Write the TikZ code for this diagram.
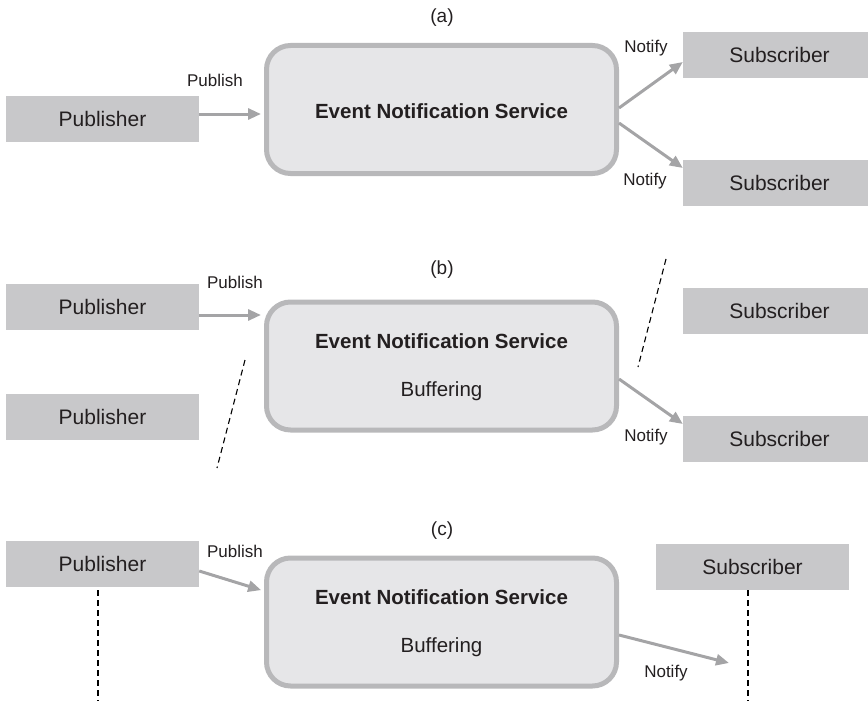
\documentclass[tikz,border=0pt]{standalone}
\usepackage{fontspec}
\setmainfont{Liberation Sans}
\usetikzlibrary{arrows.meta}
\definecolor{boxgray}{HTML}{C8C8CA}
\definecolor{ensfill}{HTML}{E6E6E8}
\definecolor{ensline}{HTML}{B8B8BA}
\definecolor{arrgray}{HTML}{A4A4A6}
\definecolor{ink}{HTML}{231F20}
\tikzset{
  actor/.style={fill=boxgray, inner sep=0pt, minimum width=193pt, minimum height=46pt,
    text=ink, font=\fontsize{21}{24}\selectfont},
  ens/.style={draw=ensline, fill=ensfill, line width=5pt, rounded corners=24pt,
    inner sep=0pt, minimum width=350pt, minimum height=128pt},
  enstext/.style={text=ink, font=\fontsize{20.5}{24}\selectfont\bfseries},
  buftext/.style={text=ink, font=\fontsize{20.5}{24}\selectfont},
  lbl/.style={text=ink, font=\fontsize{17}{20}\selectfont},
  panel/.style={text=ink, font=\fontsize{19}{22}\selectfont},
  flow/.style={draw=arrgray, line width=3pt, -{Triangle[length=13pt,width=11pt]}},
  sep/.style={draw=black, line width=1.1pt, dash pattern=on 6pt off 4pt}
}
\begin{document}
\begin{tikzpicture}[x=1pt,y=-1pt]
\useasboundingbox (0,0) rectangle (868,701);

% ---------- (a) ----------
\node[panel] (la) at (442,18) {(a)};
\node[actor] (pubA) at (102.5,119) {Publisher};
\node[ens] (ensA) at (441.5,109.5) {};
\node[enstext] (ensAt) at (441.5,111) {Event Notification Service};
\node[actor] (subA1) at (779.5,55) {Subscriber};
\node[actor] (subA2) at (779.5,183) {Subscriber};
\node[lbl] (pubLA) at (215,80) {Publish};
\node[lbl] (notLA1) at (646,48) {Notify};
\node[lbl] (notLA2) at (645,181) {Notify};
\draw[flow, shorten >=3pt] ([yshift=5pt]pubA.east) -- ([yshift=-4.5pt]ensA.west);
\draw[flow] ([yshift=1.5pt]ensA.east) -- ([yshift=-7pt]subA1.west);
\draw[flow] ([yshift=-13.5pt]ensA.east) -- ([yshift=15pt]subA2.west);

% ---------- (b) ----------
\node[panel] (lb) at (442,270) {(b)};
\node[actor] (pubB1) at (102.5,306.5) {Publisher};
\node[actor] (pubB2) at (102.5,416.5) {Publisher};
\node[ens] (ensB) at (441.5,366) {};
\node[enstext] (ensBt) at (441.5,341) {Event Notification Service};
\node[buftext] (bufB) at (441.5,391) {Buffering};
\node[actor] (subB1) at (779.5,310.5) {Subscriber};
\node[actor] (subB2) at (779.5,439) {Subscriber};
\node[lbl] (pubLB) at (235,282) {Publish};
\node[lbl] (notLB) at (646,437) {Notify};
\draw[flow, shorten >=3pt] ([yshift=-8.5pt]pubB1.east) -- ([yshift=51pt]ensB.west);
\draw[flow] ([yshift=-13pt]ensB.east) -- ([yshift=15pt]subB2.west);
\coordinate (cutB1a) at (245,360);
\coordinate (cutB1b) at (217,468);
\coordinate (cutB2a) at (666,259);
\coordinate (cutB2b) at (638,367);
\draw[sep] (cutB1a) -- (cutB1b);
\draw[sep] (cutB2a) -- (cutB2b);

% ---------- (c) ----------
\node[panel] (lc) at (442,531) {(c)};
\node[actor] (pubC) at (102.5,564) {Publisher};
\node[ens] (ensC) at (441.5,622) {};
\node[enstext] (ensCt) at (441.5,597) {Event Notification Service};
\node[buftext] (bufC) at (441.5,647) {Buffering};
\node[actor] (subC) at (752.5,567) {Subscriber};
\node[lbl] (pubLC) at (235,551) {Publish};
\node[lbl] (notLC) at (666,673) {Notify};
\draw[flow, shorten >=3pt] ([yshift=-7pt]pubC.east) -- ([yshift=31pt]ensC.west);
\coordinate (dropC) at (729,663);
\draw[flow] ([yshift=-13pt]ensC.east) -- (dropC);
\coordinate (lifePubTop) at (98,590);
\coordinate (lifePubEnd) at (98,701);
\coordinate (lifeSubTop) at (748,590);
\coordinate (lifeSubEnd) at (748,701);
\draw[sep] (lifePubTop) -- (lifePubEnd);
\draw[sep] (lifeSubTop) -- (lifeSubEnd);
\end{tikzpicture}
\end{document}
